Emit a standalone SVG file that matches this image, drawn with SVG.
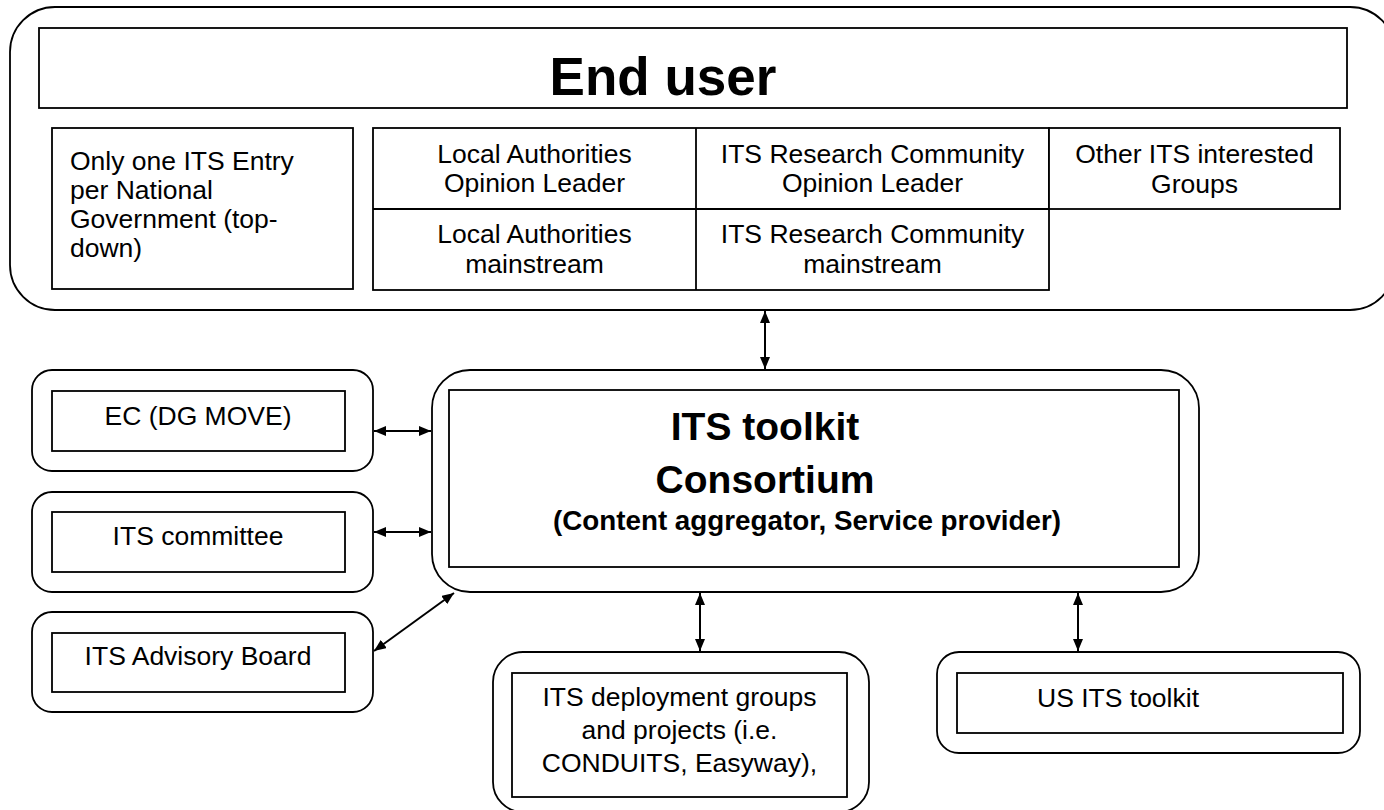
<svg xmlns="http://www.w3.org/2000/svg" width="1384" height="810" viewBox="0 0 1384 810">
<style>
.frame{fill:none;stroke:#000;stroke-width:1.8}
.box{fill:#fff;stroke:#000;stroke-width:1.8}
.t{font-family:"Liberation Sans",Arial,sans-serif;font-size:26.5px;fill:#000}
.c{text-anchor:middle}
.b{font-weight:bold}
.con{stroke:#000;stroke-width:2;fill:none;marker-start:url(#ah);marker-end:url(#ah)}
</style>
<defs>
<marker id="ah" viewBox="0 0 12 10" refX="12" refY="5" markerWidth="12" markerHeight="10" markerUnits="userSpaceOnUse" orient="auto-start-reverse">
<path d="M0,0 L12,5 L0,10 z" fill="#000"/>
</marker>
</defs>
<rect width="1384" height="810" fill="#fff"/>

<g id="end-user">
<rect class="frame" x="10" y="7" width="1385" height="303" rx="45"/>
<rect class="box" x="39" y="28" width="1308" height="80"/>
<text class="t c b" x="663" y="95" style="font-size:53px">End user</text>
</g>

<g id="national-gov">
<rect class="box" x="52" y="128" width="301" height="161"/>
<text class="t" x="70" y="170">Only one ITS Entry</text>
<text class="t" x="70" y="199">per National</text>
<text class="t" x="70" y="228">Government (top-</text>
<text class="t" x="70" y="257">down)</text>
</g>

<g id="stakeholder-table">
<rect class="box" x="373" y="128" width="676" height="162"/>
<line class="frame" x1="373" y1="209" x2="1049" y2="209"/>
<line class="frame" x1="696" y1="128" x2="696" y2="290"/>
<rect class="box" x="1049" y="128" width="291" height="81"/>
<text class="t c" x="534.5" y="163">Local Authorities</text>
<text class="t c" x="534.5" y="192">Opinion Leader</text>
<text class="t c" x="534.5" y="243">Local Authorities</text>
<text class="t c" x="534.5" y="273">mainstream</text>
<text class="t c" x="872.5" y="163">ITS Research Community</text>
<text class="t c" x="872.5" y="192">Opinion Leader</text>
<text class="t c" x="872.5" y="243">ITS Research Community</text>
<text class="t c" x="872.5" y="273">mainstream</text>
<text class="t c" x="1194.5" y="163">Other ITS interested</text>
<text class="t c" x="1194.5" y="193">Groups</text>
</g>

<g id="consortium">
<rect class="frame" x="432" y="370" width="767" height="222" rx="38"/>
<rect class="box" x="449" y="390" width="730" height="177"/>
<text class="t c b" x="765" y="440" style="font-size:39px">ITS toolkit</text>
<text class="t c b" x="765" y="493" style="font-size:39px">Consortium</text>
<text class="t c b" x="807" y="530" style="font-size:27.8px">(Content aggregator, Service provider)</text>
</g>

<g id="ec-dg-move">
<rect class="frame" x="32" y="370" width="341" height="101" rx="20"/>
<rect class="box" x="52" y="391" width="293" height="60"/>
<text class="t c" x="198" y="425">EC (DG MOVE)</text>
</g>

<g id="its-committee">
<rect class="frame" x="32" y="492" width="341" height="100" rx="20"/>
<rect class="box" x="52" y="512" width="293" height="60"/>
<text class="t c" x="198" y="545">ITS committee</text>
</g>

<g id="its-advisory-board">
<rect class="frame" x="32" y="612" width="341" height="100" rx="20"/>
<rect class="box" x="52" y="633" width="293" height="59"/>
<text class="t c" x="198" y="665">ITS Advisory Board</text>
</g>

<g id="deployment-groups">
<rect class="frame" x="493" y="652" width="376" height="160" rx="30"/>
<rect class="box" x="512" y="673" width="335" height="124"/>
<text class="t c" x="679.5" y="706">ITS deployment groups</text>
<text class="t c" x="679.5" y="739">and projects (i.e.</text>
<text class="t c" x="679.5" y="772">CONDUITS, Easyway),</text>
</g>

<g id="us-its-toolkit">
<rect class="frame" x="937" y="652" width="423" height="101" rx="22"/>
<rect class="box" x="957" y="673" width="386" height="60"/>
<text class="t" x="1037" y="707">US ITS toolkit</text>
</g>

<g id="connectors">
<line class="con" x1="765" y1="311" x2="765" y2="369"/>
<line class="con" x1="374" y1="431" x2="431" y2="431"/>
<line class="con" x1="374" y1="532" x2="431" y2="532"/>
<line class="con" x1="374" y1="651" x2="454" y2="593"/>
<line class="con" x1="700" y1="593" x2="700" y2="651"/>
<line class="con" x1="1078" y1="593" x2="1078" y2="651"/>
</g>
</svg>
